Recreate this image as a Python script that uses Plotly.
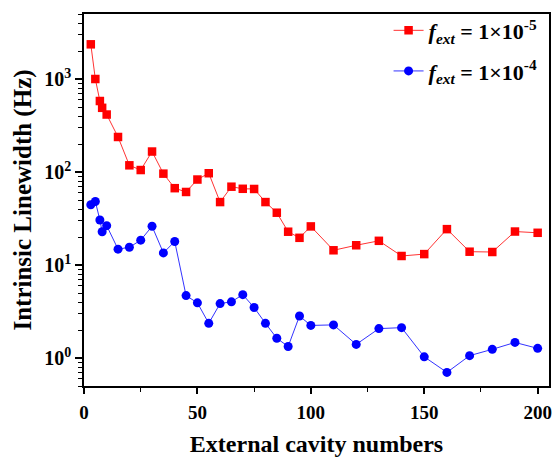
import math
import plotly.graph_objects as go

# Data
cavity_numbers = [3, 5, 7, 8, 10, 15, 20, 25, 30, 35, 40, 45, 50, 55, 60, 65, 70, 75,
                  80, 85, 90, 95, 100, 110, 120, 130, 140, 150, 160, 170, 180, 190, 200]
linewidth_f1e5 = [2360, 1000, 580, 490, 415, 238, 118, 105, 166, 96, 67, 61, 83, 97, 47.5,
                  69.5, 66, 65.7, 47.5, 36.5, 22.8, 19.6, 26, 14.4, 16.3, 18.2, 12.5, 13.1,
                  24.3, 13.9, 13.8, 22.9, 22.2]
linewidth_f1e4 = [44.4, 48.2, 30.5, 22.8, 26.5, 14.8, 15.5, 18.5, 26.1, 13.5, 17.9, 4.69,
                  3.92, 2.36, 3.85, 4.02, 4.8, 3.49, 2.36, 1.63, 1.33, 2.83, 2.24, 2.27, 1.4,
                  2.07, 2.12, 1.03, 0.70, 1.06, 1.24, 1.47, 1.27]

series_names = ["<b><i>f</i><sub><i>ext</i></sub> = 1×10<sup>-5</sup></b>",
                "<b><i>f</i><sub><i>ext</i></sub> = 1×10<sup>-4</sup></b>"]
y_tickvals = [1, 10, 100, 1000]
y_ticktext = ["<b>10<sup>0</sup></b>", "<b>10<sup>1</sup></b>", "<b>10<sup>2</sup></b>",
              "<b>10<sup>3</sup></b>"]
x_tickvals = [0, 50, 100, 150, 200]
x_ticktext = ["<b>0</b>", "<b>50</b>", "<b>100</b>", "<b>150</b>", "<b>200</b>"]

FONT = "Liberation Serif"

fig = go.Figure()
fig.add_trace(go.Scatter(
    x=cavity_numbers, y=linewidth_f1e5, mode="lines+markers", name=series_names[0],
    line=dict(color="#ff3333", width=1),
    marker=dict(symbol="square", size=8.5, color="#ff0000"),
    legendgroup="a",
))
fig.add_trace(go.Scatter(
    x=cavity_numbers, y=linewidth_f1e4, mode="lines+markers", name=series_names[1],
    line=dict(color="#3333ff", width=1),
    marker=dict(symbol="circle", size=9, color="#0000ff"),
    legendgroup="b",
))

fig.update_layout(
    width=557, height=458, autosize=False,
    margin=dict(l=84, r=5, t=14, b=69),
    paper_bgcolor="white", plot_bgcolor="white",
    font=dict(family=FONT, color="black"),
    showlegend=True,
    legend=dict(
        x=0.655, y=1.012, xanchor="left", yanchor="top",
        bgcolor="rgba(0,0,0,0)", borderwidth=0,
        font=dict(family=FONT, size=22, color="black"),
        tracegroupgap=9,
    ),
    xaxis=dict(
        range=[0, 205], tickvals=x_tickvals, ticktext=x_ticktext,
        ticks="outside", ticklen=6, tickwidth=1.5, tickcolor="black",
        showline=True, linecolor="black", linewidth=1.5, mirror=True,
        showgrid=False, zeroline=False,
        tickfont=dict(family=FONT, size=19, color="black"),
        ticklabelstandoff=2,
        title=dict(text="<b>External cavity numbers</b>",
                   font=dict(family=FONT, size=24, color="black"), standoff=14),
        minor=dict(dtick=25, ticks="outside", ticklen=4, tickwidth=1.2, tickcolor="black",
                   showgrid=False),
    ),
    yaxis=dict(
        type="log", range=[math.log10(0.5), math.log10(5000)],
        tickvals=y_tickvals, ticktext=y_ticktext,
        ticks="outside", ticklen=7, tickwidth=1.5, tickcolor="black",
        showline=True, linecolor="black", linewidth=1.5, mirror=True,
        showgrid=False, zeroline=False,
        tickfont=dict(family=FONT, size=20, color="black"),
        title=dict(text="<b>Intrinsic Linewidth (Hz)</b>",
                   font=dict(family=FONT, size=25, color="black"), standoff=6),
        minor=dict(dtick="D1", ticks="outside", ticklen=4, tickwidth=1.2, tickcolor="black",
                   showgrid=False),
    ),
)

fig.write_html("out.html")
